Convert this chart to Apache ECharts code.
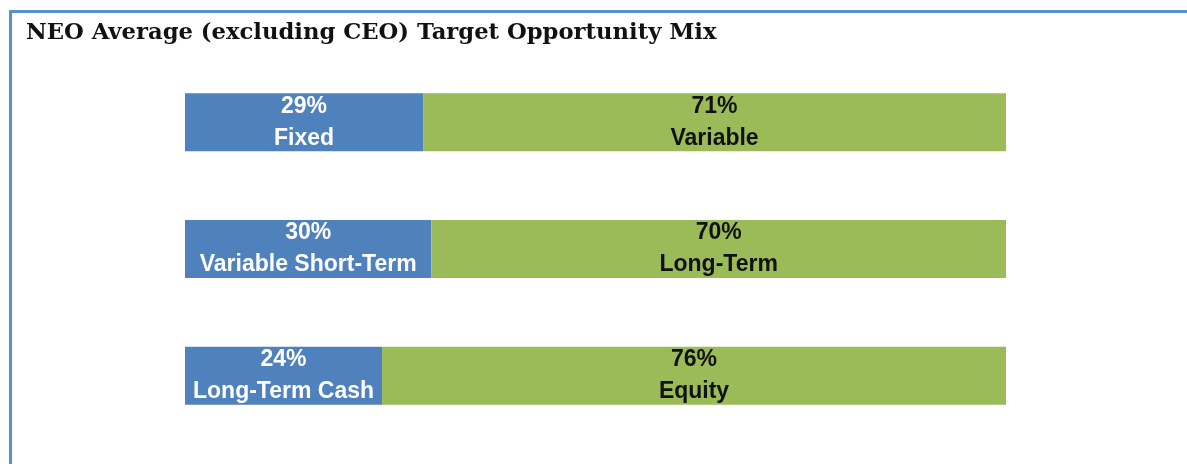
<!DOCTYPE html>
<html>
<head>
<meta charset="utf-8">
<script src="https://cdn.jsdelivr.net/npm/echarts@6/dist/echarts.min.js"></script>
<style>
  html, body { margin: 0; padding: 0; background: #fff; }
  #frame { position: absolute; left: 9px; top: 10px; width: 1178px; height: 454px;
           border-top: 3px solid #5b8fd0; border-left: 3px solid #5b8fd0; box-sizing: border-box; }
  #chart { width: 1187px; height: 464px; position: absolute; left: 0; top: 0; }
</style>
</head>
<body>
<div id="frame"></div>
<div id="chart"></div>
<script>
var categories = ['Fixed vs Variable', 'Short vs Long', 'Cash vs Equity'];
var firstShares = [29, 30, 24];
var firstLabels = ['Fixed', 'Variable Short-Term', 'Long-Term Cash'];
var secondShares = [71, 70, 76];
var secondLabels = ['Variable', 'Long-Term', 'Equity'];

function makeData(values, names) {
	return values.map(function (v, i) {
		return { value: v, name: names[i] };
	});
}

var labelStyle = {
	show: true,
	position: 'inside',
	fontFamily: 'Liberation Sans',
	fontWeight: 'bold',
	fontSize: 23,
	lineHeight: 32,
	formatter: function (p) {
		return p.value + '%\n' + p.data.name;
	},
};

var option = {
	animation: false,
	title: {
		text: 'NEO Average (excluding CEO) Target Opportunity Mix',
		left: 21,
		top: 17,
		textStyle: {
			fontFamily: 'DejaVu Serif',
			fontWeight: 'bold',
			fontSize: 22.7,
			color: '#111',
		},
	},
	grid: {
		left: 185,
		right: 181,
		top: 59,
		height: 380,
	},
	xAxis: {
		type: 'value',
		min: 0,
		max: 100,
		show: false,
	},
	yAxis: {
		type: 'category',
		data: categories,
		inverse: true,
		show: false,
	},
	series: [{
			type: 'bar',
			stack: 'mix',
			barWidth: 58,
			itemStyle: { color: '#4f81bd' },
			label: Object.assign({}, labelStyle, { color: '#fff' }),
			data: makeData(firstShares, firstLabels),
		},
		{
			type: 'bar',
			stack: 'mix',
			barWidth: 58,
			itemStyle: { color: '#9bbb59' },
			label: Object.assign({}, labelStyle, { color: '#111' }),
			data: makeData(secondShares, secondLabels),
		},
	],
};

var myChart = echarts.init(document.getElementById('chart'));
myChart.setOption(option);
</script>
</body>
</html>
